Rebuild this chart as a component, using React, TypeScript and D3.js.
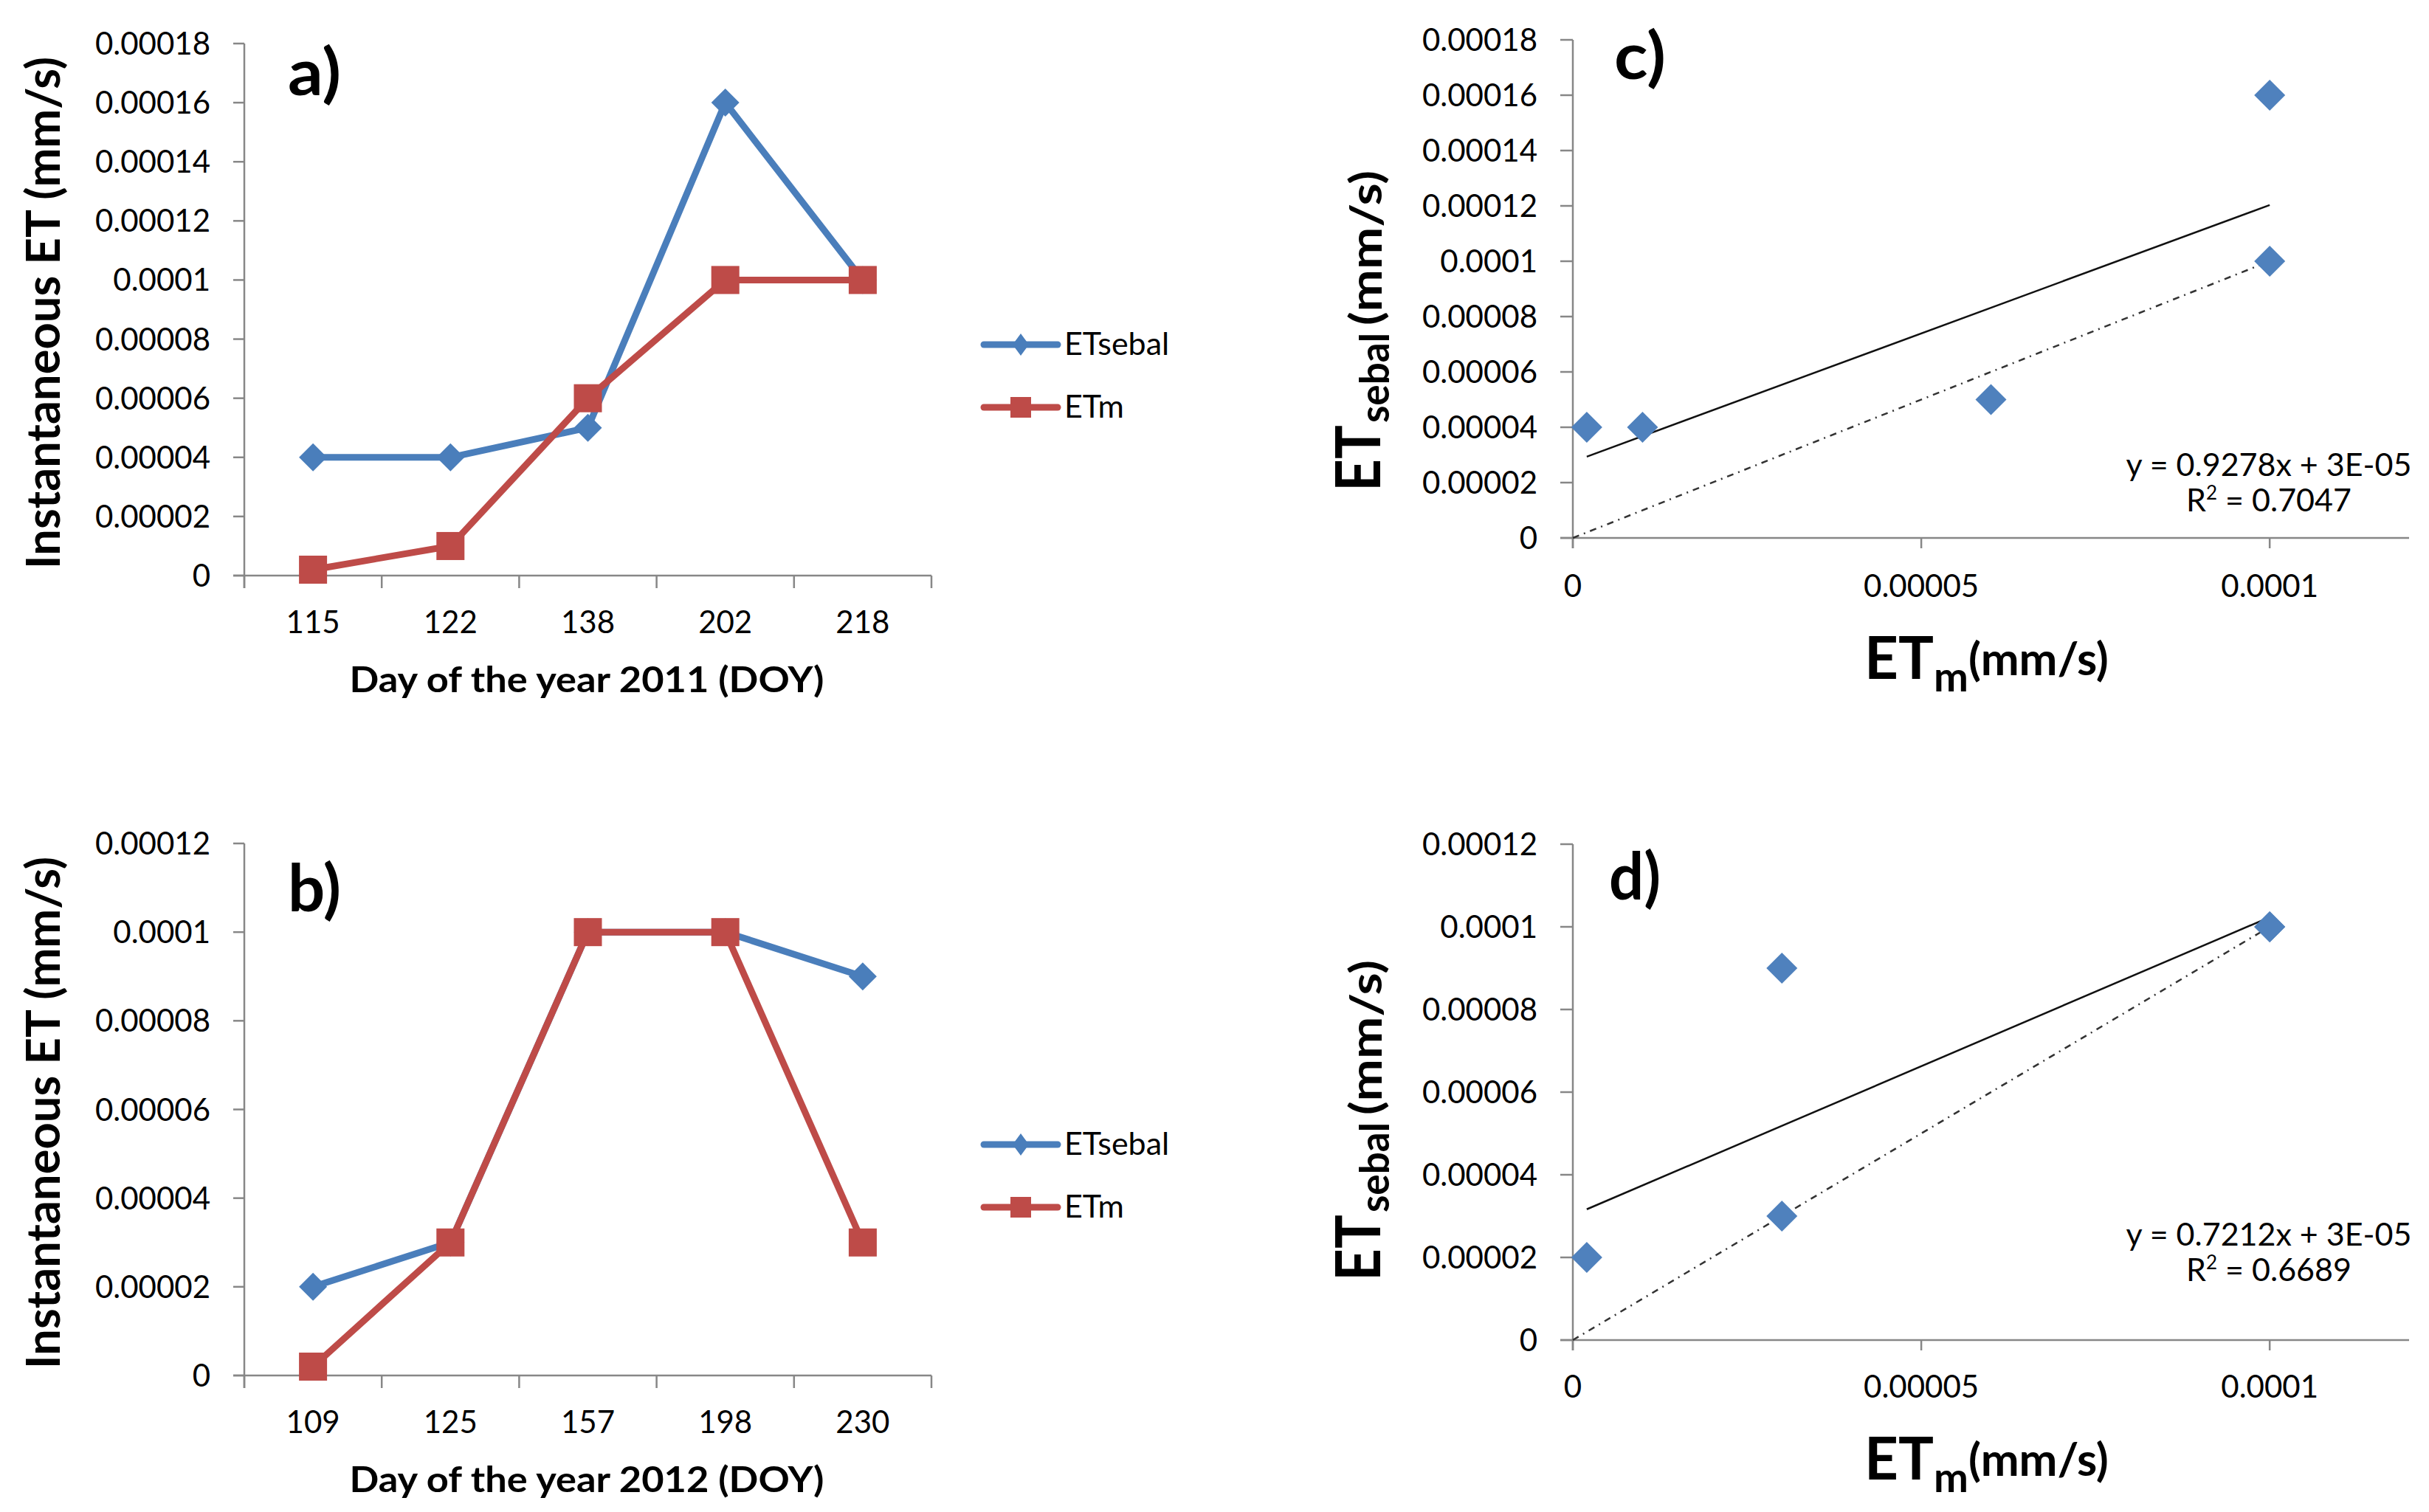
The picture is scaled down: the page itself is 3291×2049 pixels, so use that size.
import React from 'react';
import * as d3 from 'd3';

// panel a / c : 2011
const daysA = ['115', '122', '138', '202', '218'];
const etSebalA = [0.00004, 0.00004, 0.00005, 0.00016, 0.0001];
const etmA = [0.000002, 0.00001, 0.00006, 0.0001, 0.0001];

// panel b / d : 2012
const daysB = ['109', '125', '157', '198', '230'];
const etSebalB = [0.00002, 0.00003, 0.0001, 0.0001, 0.00009];
const etmB = [0.000002, 0.00003, 0.0001, 0.0001, 0.00003];

const yTicksTop = [0, 0.00002, 0.00004, 0.00006, 0.00008, 0.0001, 0.00012, 0.00014, 0.00016, 0.00018];
const yTicksBottom = [0, 0.00002, 0.00004, 0.00006, 0.00008, 0.0001, 0.00012];
const xTicksScatter = [0, 0.00005, 0.0001];
const seriesNames = ['ETsebal', 'ETm'];

const W = 3291;
const H = 2049;
const FONT = "Lato, 'Open Sans', sans-serif";
const BLUE = '#4A7EBB';
const RED = '#BE4B48';
const AXIS = '#878787';

const fmt = (v: number) => (v === 0 ? '0' : v.toFixed(5).replace(/0+$/, ''));

function fit(xs: number[], ys: number[]) {
  const mx = d3.mean(xs)!;
  const my = d3.mean(ys)!;
  let sxx = 0, sxy = 0, syy = 0;
  xs.forEach((x, i) => {
    sxx += (x - mx) ** 2;
    sxy += (x - mx) * (ys[i] - my);
    syy += (ys[i] - my) ** 2;
  });
  const slope = sxy / sxx;
  const icpt = my - slope * mx;
  return { slope, icpt, r2: (sxy * sxy) / (sxx * syy) };
}

function sci(v: number) {
  const [m, e] = v.toExponential(0).split('e');
  const n = Math.abs(+e);
  return `${m}E${+e < 0 ? '-' : '+'}${String(n).padStart(2, '0')}`;
}

const diamond = (x: number, y: number, w: number, h: number) =>
  `M${x},${y - h}L${x + w},${y}L${x},${y + h}L${x - w},${y}Z`;

function Rot({ x, y, len, size, children }: any) {
  // text read bottom-to-top, x = baseline, y = start (bottom)
  return (
    <text
      transform={`translate(${x},${y}) rotate(-90)`}
      fontSize={size}
      fontWeight="bold"
      textLength={len}
      lengthAdjust="spacingAndGlyphs"
    >
      {children}
    </text>
  );
}

function LinePanel({ days, sebal, etm, yMax, yTicks, dy, label, labelY, year }: any) {
  const x = d3.scaleBand<string>().domain(days).range([331, 1262]);
  const y = d3.scaleLinear().domain([0, yMax]).range([780 + dy, 59 + dy]);
  const cx = (d: string) => x(d)! + x.bandwidth() / 2;
  const line = d3
    .line<number>()
    .x((_, i) => cx(days[i]))
    .y((v) => y(v));
  const bounds = days.map((d: string) => x(d)!).concat([1262]);
  const zero = y(0);
  return (
    <g>
      {/* axes */}
      <line x1={331} x2={331} y1={y(yMax)} y2={zero + 17} stroke={AXIS} strokeWidth={2.5} />
      <line x1={316} x2={1262} y1={zero} y2={zero} stroke={AXIS} strokeWidth={2.5} />
      {yTicks.map((t: number) => (
        <g key={t}>
          <line x1={316} x2={331} y1={y(t)} y2={y(t)} stroke={AXIS} strokeWidth={2.5} />
          <text x={285} y={y(t) + 15} textAnchor="end" fontSize={42}>
            {fmt(t)}
          </text>
        </g>
      ))}
      {bounds.map((b: number, i: number) => (
        <line key={i} x1={b} x2={b} y1={zero} y2={zero + 17} stroke={AXIS} strokeWidth={2.5} />
      ))}
      {days.map((d: string) => (
        <text key={d} x={cx(d)} y={858 + dy} textAnchor="middle" fontSize={42}>
          {d}
        </text>
      ))}
      {/* series */}
      <path d={line(sebal)!} fill="none" stroke={BLUE} strokeWidth={9} strokeLinejoin="round" />
      {sebal.map((v: number, i: number) => (
        <path key={i} d={diamond(cx(days[i]), y(v), 19, 19)} fill={BLUE} />
      ))}
      <path d={line(etm)!} fill="none" stroke={RED} strokeWidth={9} strokeLinejoin="round" />
      {etm.map((v: number, i: number) => (
        <rect key={i} x={cx(days[i]) - 19} y={y(v) - 19} width={38} height={38} fill={RED} />
      ))}
      {/* legend */}
      <line x1={1333} x2={1433} y1={467 + dy} y2={467 + dy} stroke={BLUE} strokeWidth={9} strokeLinecap="round" />
      <path d={diamond(1383, 467 + dy, 11, 15)} fill={BLUE} />
      <text x={1442} y={481 + dy} fontSize={43}>{seriesNames[0]}</text>
      <line x1={1333} x2={1433} y1={552 + dy} y2={552 + dy} stroke={RED} strokeWidth={9} strokeLinecap="round" />
      <rect x={1369} y={538 + dy} width={28} height={28} fill={RED} />
      <text x={1442} y={566 + dy} fontSize={43}>{seriesNames[1]}</text>
      {/* titles */}
      <text x={795} y={938 + dy} textAnchor="middle" fontSize={47} fontWeight="bold" textLength={643} lengthAdjust="spacingAndGlyphs">
        {`Day of the year ${year} (DOY)`}
      </text>
      <Rot x={81} y={771 + dy} len={694} size={64}>Instantaneous ET (mm/s)</Rot>
      <text x={390} y={labelY} fontSize={88} fontWeight="bold" textLength={72} lengthAdjust="spacingAndGlyphs">
        {label}
      </text>
    </g>
  );
}

function ScatterPanel({ xs, ys, yMax, yTicks, top, zero, dy, ty, label, labelX, labelY, eqY }: any) {
  const x = d3.scaleLinear().domain([0, 0.00012]).range([2131, 3264]);
  const y = d3.scaleLinear().domain([0, yMax]).range([zero, top]);
  const { slope, icpt, r2 } = fit(xs, ys);
  const x0 = d3.min(xs) as number;
  const x1 = d3.max(xs) as number;
  return (
    <g>
      <line x1={2131} x2={2131} y1={top} y2={zero + 14} stroke={AXIS} strokeWidth={2.5} />
      <line x1={2114} x2={3264} y1={zero} y2={zero} stroke={AXIS} strokeWidth={2.5} />
      {yTicks.map((t: number) => (
        <g key={t}>
          <line x1={2114} x2={2131} y1={y(t)} y2={y(t)} stroke={AXIS} strokeWidth={2.5} />
          <text x={2083} y={y(t) + 15} textAnchor="end" fontSize={42}>
            {fmt(t)}
          </text>
        </g>
      ))}
      {xTicksScatter.map((t) => (
        <g key={t}>
          <line x1={x(t)} x2={x(t)} y1={zero} y2={zero + 14} stroke={AXIS} strokeWidth={2.5} />
          <text x={x(t)} y={809 + dy} textAnchor="middle" fontSize={42}>
            {fmt(t)}
          </text>
        </g>
      ))}
      {/* 1:1 line */}
      <line x1={x(0)} y1={y(0)} x2={x(0.0001)} y2={y(0.0001)} stroke="#333" strokeWidth={2.5} strokeDasharray="9 7 2 7" />
      {/* linear trend */}
      <line x1={x(x0)} y1={y(slope * x0 + icpt)} x2={x(x1)} y2={y(slope * x1 + icpt)} stroke="#111" strokeWidth={2.5} />
      {xs.map((v: number, i: number) => (
        <path key={i} d={diamond(x(v), y(ys[i]), 21, 21)} fill="#4F81BD" />
      ))}
      <text x={3074} y={eqY} textAnchor="middle" fontSize={43}>
        {`y = ${slope.toFixed(4)}x + ${sci(icpt)}`}
      </text>
      <text x={3074} y={eqY + 48} textAnchor="middle" fontSize={43}>
        R<tspan fontSize={26} dy={-16}>2</tspan>
        <tspan dy={16}>{` = ${r2.toFixed(4)}`}</tspan>
      </text>
      {/* x title: ET with subscript m */}
      <text x={2526} y={920 + dy} fontSize={80} fontWeight="bold">
        ET
        <tspan fontSize={56} dy={17}>m</tspan>
        <tspan fontSize={62} dy={-22}>(mm/s)</tspan>
      </text>
      {/* y title */}
      <Rot x={1870} y={666 + ty} len={90} size={85}>ET</Rot>
      <Rot x={1882} y={573 + ty} len={122} size={56}>sebal</Rot>
      <Rot x={1872} y={441 + ty} len={210} size={60}>(mm/s)</Rot>
      <text x={labelX} y={labelY} fontSize={88} fontWeight="bold" textLength={70} lengthAdjust="spacingAndGlyphs">
        {label}
      </text>
    </g>
  );
}

export default function App() {
  return (
    <svg
      width={W}
      height={H}
      viewBox={`0 0 ${W} ${H}`}
      style={{ position: 'absolute', left: 0, top: 0, background: '#fff' }}
      fontFamily={FONT}
      fill="#000"
    >
      <rect width={W} height={H} fill="#fff" />
      <LinePanel days={daysA} sebal={etSebalA} etm={etmA} yMax={0.00018} yTicks={yTicksTop} dy={0} label="a)" labelY={129} year={2011} />
      <LinePanel days={daysB} sebal={etSebalB} etm={etmB} yMax={0.00012} yTicks={yTicksBottom} dy={1084} label="b)" labelY={1235} year={2012} />
      <ScatterPanel xs={etmA} ys={etSebalA} yMax={0.00018} yTicks={yTicksTop} top={54} zero={729} dy={0} ty={0} label="c)" labelX={2187} labelY={107} eqY={645} />
      <ScatterPanel xs={etmB} ys={etSebalB} yMax={0.00012} yTicks={yTicksBottom} top={1144} zero={1816} dy={1085} ty={1070} label="d)" labelX={2180} labelY={1219} eqY={1688} />
    </svg>
  );
}
